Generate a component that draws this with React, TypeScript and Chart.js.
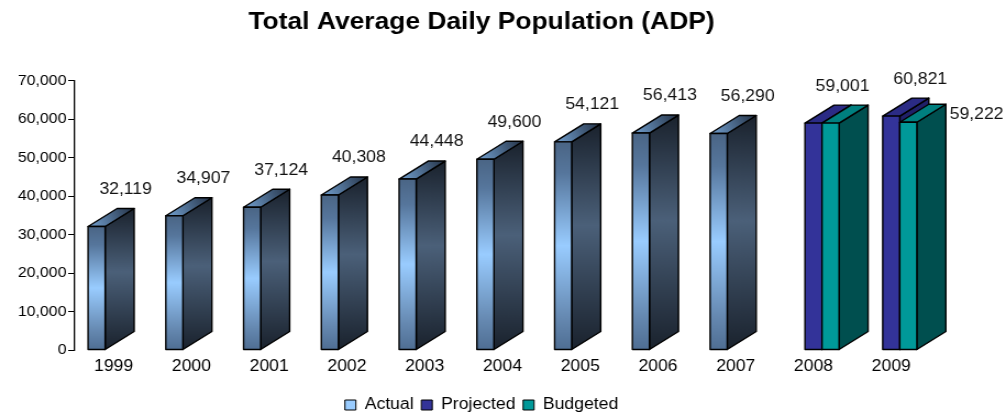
import React, { useEffect, useRef } from 'react';
import { Chart, registerables } from 'chart.js';

Chart.register(...registerables);

const FONT = '"Liberation Sans", Arial, Helvetica, sans-serif';

// Years on the category axis
const categories = ['1999', '2000', '2001', '2002', '2003', '2004', '2005', '2006', '2007', '2008', '2009'];

// Average daily population per year
const actualValues = [32119, 34907, 37124, 40308, 44448, 49600, 54121, 56413, 56290, null, null];
const projectedValues = [null, null, null, null, null, null, null, null, null, 59001, 60821];
const budgetedValues = [null, null, null, null, null, null, null, null, null, 59001, 59222];

// Value axis
const yMin = 0;
const yMax = 70000;
const yStep = 10000;

const seriesNames = ['Actual', 'Projected', 'Budgeted'];
const legendColors = ['#99ccff', '#333399', '#009999'];

// Canvas is drawn at a narrower internal width and displayed wider
const INNER_W = 915;
const INNER_H = 412;
const SHOW_W = 1006;

// Extrusion of the 3D bars (internal pixels)
const DEPTH_X = 26.4;
const DEPTH_Y = 18;

const fmt = (v: number) => v.toLocaleString('en-US');

type FaceFill = (
  ctx: CanvasRenderingContext2D,
  l: number,
  r: number,
  t: number,
  b: number
) => CanvasGradient | string;

type Faces = { front: FaceFill; side: FaceFill; top: FaceFill };

const faceStyles: Faces[] = [
  {
    front: (ctx, l, r, t, b) => {
      const g = ctx.createLinearGradient(0, t, 0, b);
      g.addColorStop(0, '#4a6585');
      g.addColorStop(0.15, '#56769c');
      g.addColorStop(0.5, '#99ccff');
      g.addColorStop(0.85, '#6588b0');
      g.addColorStop(1, '#4f6e93');
      return g;
    },
    side: (ctx, l, r, t, b) => {
      const g = ctx.createLinearGradient(0, t - DEPTH_Y, 0, b);
      g.addColorStop(0, '#1a222d');
      g.addColorStop(0.45, '#4b6079');
      g.addColorStop(1, '#1a222d');
      return g;
    },
    top: (ctx, l, r, t) => {
      const g = ctx.createLinearGradient(l, t, r + DEPTH_X, t - DEPTH_Y);
      g.addColorStop(0, '#74a2d2');
      g.addColorStop(1, '#243246');
      return g;
    },
  },
  {
    front: () => '#333399',
    side: () => '#202068',
    top: () => '#2b2b85',
  },
  {
    front: () => '#009999',
    side: () => '#004f4f',
    top: () => '#007f7f',
  },
];

const bars3d = {
  id: 'bars3d',
  beforeDatasetsDraw(chart: any) {
    const ctx: CanvasRenderingContext2D = chart.ctx;
    const datasets = chart.data.datasets;
    ctx.save();
    ctx.lineJoin = 'round';
    ctx.lineWidth = 1.4;
    ctx.strokeStyle = '#000';

    const shape = (pts: number[][], fill: CanvasGradient | string) => {
      ctx.beginPath();
      ctx.moveTo(pts[0][0], pts[0][1]);
      for (let k = 1; k < pts.length; k++) ctx.lineTo(pts[k][0], pts[k][1]);
      ctx.closePath();
      ctx.fillStyle = fill;
      ctx.fill();
      ctx.stroke();
    };

    // Bars, left to right so nearer faces cover farther ones
    for (let i = 0; i < categories.length; i++) {
      datasets.forEach((ds: any, di: number) => {
        const v = ds.data[i];
        if (v == null) return;
        const el = chart.getDatasetMeta(di).data[i];
        const { x, y, base, width } = el.getProps(['x', 'y', 'base', 'width'], true);
        const l = x - width / 2;
        const r = x + width / 2;
        const t = y;
        const b = base;
        const st = faceStyles[di];
        shape(
          [[r, t], [r + DEPTH_X, t - DEPTH_Y], [r + DEPTH_X, b - DEPTH_Y], [r, b]],
          st.side(ctx, l, r, t, b)
        );
        shape(
          [[l, t], [l + DEPTH_X, t - DEPTH_Y], [r + DEPTH_X, t - DEPTH_Y], [r, t]],
          st.top(ctx, l, r, t, b)
        );
        shape([[l, t], [r, t], [r, b], [l, b]], st.front(ctx, l, r, t, b));
      });
    }

    // Value labels
    ctx.fillStyle = '#111';
    ctx.font = `16px ${FONT}`;
    ctx.textBaseline = 'middle';
    for (let i = 0; i < categories.length; i++) {
      datasets.forEach((ds: any, di: number) => {
        const v = ds.data[i];
        if (v == null) return;
        const el = chart.getDatasetMeta(di).data[i];
        const { x, y, width } = el.getProps(['x', 'y', 'width'], true);
        if (di === 2) {
          // budget label sits beside its bar, unless it repeats the projection
          if (projectedValues[i] === v) return;
          ctx.textAlign = 'left';
          ctx.fillText(fmt(v), x + width / 2 + DEPTH_X + 3.5, y - DEPTH_Y + 10);
        } else {
          ctx.textAlign = 'center';
          ctx.fillText(fmt(v), x + DEPTH_X, y - DEPTH_Y - 19);
        }
      });
    }
    ctx.restore();
    return false;
  },
};

export default function App() {
  const canvasRef = useRef<HTMLCanvasElement | null>(null);

  useEffect(() => {
    const canvas = canvasRef.current;
    if (!canvas) return;
    const chart = new Chart(canvas, {
      type: 'bar',
      data: {
        labels: categories,
        datasets: [actualValues, projectedValues, budgetedValues].map((values, i) => ({
          label: seriesNames[i],
          data: values,
          backgroundColor: legendColors[i],
          borderColor: '#000',
          borderWidth: 1,
          categoryPercentage: 0.658,
          barPercentage: 1,
        })),
      },
      options: {
        responsive: false,
        animation: false,
        devicePixelRatio: 1,
        events: [],
        layout: { padding: { left: 0, right: 39, top: 0, bottom: -11 } },
        plugins: {
          title: {
            display: true,
            text: 'Total Average Daily Population (ADP)',
            color: '#000',
            font: { family: FONT, size: 24, weight: 'bold' },
            padding: { top: 8, bottom: 44 },
          },
          legend: {
            display: true,
            position: 'bottom',
            labels: {
              color: '#000',
              font: { family: FONT, size: 16 },
              boxWidth: 10,
              boxHeight: 10,
              padding: 7,
            },
          },
          tooltip: { enabled: false },
        },
        scales: {
          x: {
            grid: { display: false, drawTicks: false },
            border: { display: false },
            ticks: { color: '#000', font: { family: FONT, size: 16 }, padding: 7 },
            afterFit: (s: any) => {
              s.height = 40;
            },
          },
          y: {
            min: yMin,
            max: yMax,
            grid: { drawOnChartArea: false, drawTicks: true, tickLength: 6, color: '#000' },
            border: { display: true, color: '#000', width: 1.3 },
            ticks: {
              stepSize: yStep,
              color: '#000',
              font: { family: FONT, size: 14.5 },
              padding: 1.5,
              callback: (v: any) => fmt(Number(v)),
            },
            afterFit: (s: any) => {
              s.width = 68;
            },
          },
          // empty right-hand gutter that leaves room for the bar depth and side labels
          gutter: {
            type: 'linear',
            position: 'right',
            display: true,
            grid: { display: false, drawTicks: false },
            border: { display: false },
            ticks: { display: false },
            afterFit: (s: any) => {
              s.width = 30;
            },
          },
        },
      },
      plugins: [bars3d],
    } as any);
    return () => chart.destroy();
  }, []);

  return (
    <div
      style={{
        position: 'fixed',
        left: 0,
        top: 0,
        width: SHOW_W,
        height: INNER_H,
        background: '#fff',
        overflow: 'hidden',
      }}
    >
      <canvas
        ref={canvasRef}
        width={INNER_W}
        height={INNER_H}
        style={{ width: `${SHOW_W}px`, height: `${INNER_H}px`, display: 'block' }}
      />
    </div>
  );
}
